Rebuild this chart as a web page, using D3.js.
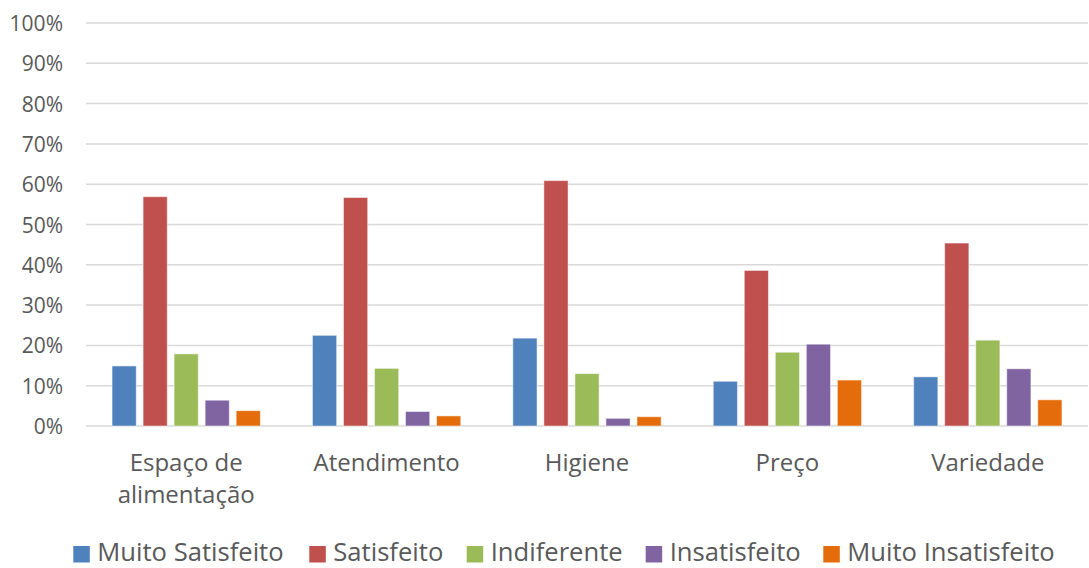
<!DOCTYPE html>
<html>
<head>
<meta charset="utf-8">
<script src="https://cdn.jsdelivr.net/npm/d3@7"></script>
<style>
  html, body { margin: 0; padding: 0; background: #fff; }
  svg { display: block; }
  text { font-family: "Open Sans", Lato, sans-serif; fill: #595959; }
</style>
</head>
<body>
<svg id="chart" width="1089" height="568"></svg>
<script>
const categories = ["Espaço de alimentação", "Atendimento", "Higiene", "Preço", "Variedade"];
const categoryLines = [["Espaço de", "alimentação"], ["Atendimento"], ["Higiene"], ["Preço"], ["Variedade"]];
const seriesNames = ["Muito Satisfeito", "Satisfeito", "Indiferente", "Insatisfeito", "Muito Insatisfeito"];
const muitoSatisfeito = [0.149, 0.225, 0.218, 0.111, 0.122];
const satisfeito = [0.569, 0.567, 0.609, 0.386, 0.454];
const indiferente = [0.179, 0.143, 0.130, 0.183, 0.213];
const insatisfeito = [0.064, 0.036, 0.019, 0.203, 0.142];
const muitoInsatisfeito = [0.038, 0.025, 0.023, 0.114, 0.065];
const colors = ["#4F81BD", "#C0504D", "#9BBB59", "#8064A2", "#E46C0A"];
const yTicks = [0, 0.1, 0.2, 0.3, 0.4, 0.5, 0.6, 0.7, 0.8, 0.9, 1.0];

const seriesValues = [muitoSatisfeito, satisfeito, indiferente, insatisfeito, muitoInsatisfeito];

const svg = d3.select("#chart");
const plotLeft = 86, plotRight = 1088, plotTop = 23, plotBottom = 426;

const x = d3.scaleBand().domain(categories).range([plotLeft, plotRight]).paddingInner(0).paddingOuter(0);
const bw = x.bandwidth();
const gap = bw * 0.13;
const xi = d3.scaleBand().domain(seriesNames).range([gap, bw - gap]).paddingInner(0.22).paddingOuter(0);
const y = d3.scaleLinear().domain([0, 1]).range([plotBottom, plotTop]);

// gridlines
svg.append("g").selectAll("line").data(yTicks).join("line")
  .attr("x1", plotLeft).attr("x2", plotRight)
  .attr("y1", d => y(d)).attr("y2", d => y(d))
  .attr("stroke", "#D9D9D9").attr("stroke-width", 1.5);

// y tick labels
svg.append("g").selectAll("text").data(yTicks).join("text")
  .attr("x", 63).attr("y", d => y(d) + 8)
  .attr("text-anchor", "end")
  .attr("font-size", 21)
  .text(d => d3.format(".0%")(d));

// bars
const groups = svg.append("g").selectAll("g").data(categories).join("g")
  .attr("transform", c => `translate(${x(c)},0)`);
groups.selectAll("rect")
  .data((c, ci) => seriesNames.map((s, si) => ({ s, si, v: seriesValues[si][ci] })))
  .join("rect")
  .attr("x", d => xi(d.s))
  .attr("width", xi.bandwidth())
  .attr("y", d => y(d.v))
  .attr("height", d => y(0) - y(d.v))
  .attr("fill", d => colors[d.si])
  .attr("stroke", "#ffffff").attr("stroke-opacity", 0.5).attr("stroke-width", 1);

// category labels
svg.append("g").selectAll("text").data(categories).join("text")
  .attr("x", c => x(c) + bw / 2)
  .attr("y", 471)
  .attr("text-anchor", "middle")
  .attr("font-size", 24)
  .each(function(c, i) {
    const t = d3.select(this);
    categoryLines[i].forEach((line, li) => {
      t.append("tspan").attr("x", x(c) + bw / 2).attr("dy", li === 0 ? 0 : 32).text(line);
    });
  });

// legend
const legend = svg.append("g");
const legendX = [73.3, 309.3, 466.7, 645.7, 823.3];
seriesNames.forEach((s, i) => {
  legend.append("rect").attr("x", legendX[i]).attr("y", 546).attr("width", 16.5).attr("height", 16.5).attr("fill", colors[i]);
  legend.append("text").attr("x", legendX[i] + 24).attr("y", 560.5)
    .attr("font-size", 25.6).text(s);
});
</script>
</body>
</html>
